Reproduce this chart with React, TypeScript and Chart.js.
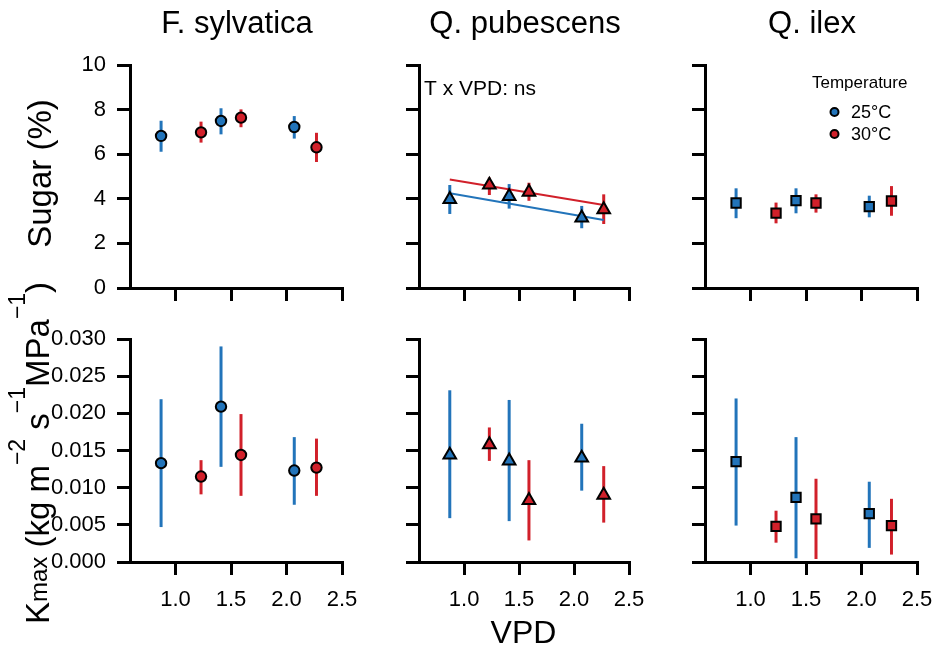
import { useEffect, useRef } from 'react';
import { Chart, registerables } from 'chart.js';

Chart.register(...registerables);

const FONT = "'Liberation Sans', Arial, sans-serif";
const BLUE = '#2274BA';
const RED = '#D1202A';

const SPECIES = ['F. sylvatica', 'Q. pubescens', 'Q. ilex'];
const MARKERS = ['circle', 'triangle', 'rect'];
const MARKER_RADIUS = [5.2, 7.3, 6.6];
const TEMPS = ['25°C', '30°C'];

const VPD_25 = [0.87, 1.41, 2.07];
const VPD_30 = [1.23, 1.59, 2.27];
const VPD_TICKS = [1.0, 1.5, 2.0, 2.5];
const SUGAR_TICKS = [0, 2, 4, 6, 8, 10];
const KMAX_TICKS = [0, 0.005, 0.01, 0.015, 0.02, 0.025, 0.03];

// Sugar (%): one row per species, one entry per VPD level
const SUGAR_25_MEAN = [[6.82, 7.49, 7.22], [3.98, 4.11, 3.15], [3.81, 3.92, 3.65]];
const SUGAR_25_LOW = [[6.11, 6.89, 6.70], [3.32, 3.56, 2.68], [3.13, 3.35, 3.17]];
const SUGAR_25_HIGH = [[7.50, 8.06, 7.71], [4.62, 4.66, 3.68], [4.47, 4.47, 4.14]];
const SUGAR_30_MEAN = [[6.98, 7.64, 6.31], [4.62, 4.30, 3.52], [3.36, 3.81, 3.90]];
const SUGAR_30_LOW = [[6.52, 7.21, 5.65], [4.17, 3.91, 2.87], [2.90, 3.38, 3.24]];
const SUGAR_30_HIGH = [[7.46, 8.01, 6.96], [4.95, 4.72, 4.20], [3.83, 4.20, 4.57]];

// Kmax (kg m-2 s-1 MPa-1): one row per species, one entry per VPD level
const KMAX_25_MEAN = [[0.0133, 0.0209, 0.0123], [0.0144, 0.0136, 0.0140], [0.0135, 0.0087, 0.0065]];
const KMAX_25_LOW = [[0.0047, 0.0128, 0.0077], [0.0059, 0.0055, 0.0096], [0.0049, 0.0005, 0.0019]];
const KMAX_25_HIGH = [[0.0219, 0.0290, 0.0168], [0.0231, 0.0218, 0.0186], [0.0220, 0.0168, 0.0108]];
const KMAX_30_MEAN = [[0.0115, 0.0144, 0.0127], [0.0158, 0.0083, 0.0090], [0.0048, 0.0058, 0.0049]];
const KMAX_30_LOW = [[0.0091, 0.0089, 0.0089], [0.0136, 0.0029, 0.0053], [0.0026, 0.0004, 0.0010]];
const KMAX_30_HIGH = [[0.0137, 0.0199, 0.0166], [0.0181, 0.0137, 0.0129], [0.0069, 0.0112, 0.0085]];

// Linear fits of sugar on VPD for Q. pubescens
const FIT_VPD = [0.87, 2.27];
const FIT_SUGAR_25 = [4.25, 3.05];
const FIT_SUGAR_30 = [4.87, 3.72];

// Page layout (pixels): canvas cells and plot areas per column / row
const COL_CELL = [[0, 375], [375, 655], [655, 933]];
const COL_AREA = [[130, 342], [419, 629], [705, 917]];
const ROW_CELL = [[0, 316], [270, 652]];
const ROW_AREA = [[65, 288], [339, 562]];
const Y_BOX = [85, 30, 30];
const X_BOX = [20, 60];

type Run = { text: string; size: number; dy?: number };
type TextItem =
  | { kind: 'text'; x: number; y: number; runs: Run[]; align?: 'left' | 'center'; rotate?: boolean }
  | { kind: 'dot'; x: number; y: number; color: string };

const KMAX_TITLE: Run[] = [
  { text: 'K', size: 33 },
  { text: 'max', size: 24, dy: -2 },
  { text: ' (kg m', size: 33 },
  { text: '−2', size: 23, dy: -24 },
  { text: ' s', size: 33 },
  { text: '−1', size: 23, dy: -24 },
  { text: 'MPa', size: 33 },
  { text: '−1', size: 23, dy: -24 },
  { text: ')', size: 33 },
];

function panelTexts(row: number, col: number): TextItem[] {
  const items: TextItem[] = [];
  const mid = (COL_AREA[col][0] + COL_AREA[col][1]) / 2;
  if (row === 0) {
    items.push({ kind: 'text', x: mid + 1, y: 33, align: 'center', runs: [{ text: SPECIES[col], size: 31 }] });
  }
  if (row === 0 && col === 0) {
    items.push({ kind: 'text', x: 51, y: 173.5, rotate: true, align: 'center', runs: [{ text: 'Sugar (%)', size: 33 }] });
  }
  if (row === 0 && col === 1) {
    items.push({ kind: 'text', x: 424, y: 95, runs: [{ text: 'T x VPD: ns', size: 21 }] });
  }
  if (row === 0 && col === 2) {
    items.push({ kind: 'text', x: 812, y: 88, runs: [{ text: 'Temperature', size: 17 }] });
    items.push({ kind: 'dot', x: 834.5, y: 112, color: BLUE });
    items.push({ kind: 'dot', x: 834.5, y: 134, color: RED });
    items.push({ kind: 'text', x: 851, y: 118, runs: [{ text: TEMPS[0], size: 18 }] });
    items.push({ kind: 'text', x: 851, y: 140, runs: [{ text: TEMPS[1], size: 18 }] });
  }
  if (row === 1 && col === 0) {
    items.push({ kind: 'text', x: 49, y: 453, rotate: true, align: 'center', runs: KMAX_TITLE });
  }
  if (row === 1 && col === 1) {
    items.push({ kind: 'text', x: 523.5, y: 643, align: 'center', runs: [{ text: 'VPD', size: 32 }] });
  }
  return items;
}

function pointSet(xs: number[], mean: number[], low: number[], high: number[], color: string, col: number) {
  return {
    type: 'scatter',
    data: xs.map((x, i) => ({ x, y: mean[i] })),
    errLow: low,
    errHigh: high,
    errColor: color,
    showLine: false,
    pointStyle: MARKERS[col],
    pointRadius: MARKER_RADIUS[col],
    pointBackgroundColor: color,
    pointBorderColor: '#000',
    pointBorderWidth: 2,
  };
}

function fitLine(ys: number[], color: string) {
  return {
    type: 'line',
    data: FIT_VPD.map((x, i) => ({ x, y: ys[i] })),
    showLine: true,
    borderColor: color,
    borderWidth: 2,
    pointRadius: 0,
    fill: false,
  };
}

const axisLine = { display: true, width: 3, color: '#000' };

function buildConfig(row: number, col: number): any {
  const sugar = row === 0;
  const datasets: any[] = [
    pointSet(VPD_25, (sugar ? SUGAR_25_MEAN : KMAX_25_MEAN)[col], (sugar ? SUGAR_25_LOW : KMAX_25_LOW)[col],
      (sugar ? SUGAR_25_HIGH : KMAX_25_HIGH)[col], BLUE, col),
    pointSet(VPD_30, (sugar ? SUGAR_30_MEAN : KMAX_30_MEAN)[col], (sugar ? SUGAR_30_LOW : KMAX_30_LOW)[col],
      (sugar ? SUGAR_30_HIGH : KMAX_30_HIGH)[col], RED, col),
  ];
  if (sugar && col === 1) datasets.push(fitLine(FIT_SUGAR_25, BLUE), fitLine(FIT_SUGAR_30, RED));

  const [cl, cr] = COL_CELL[col];
  const [ct, cb] = ROW_CELL[row];
  const [al, ar] = COL_AREA[col];
  const [at, ab] = ROW_AREA[row];
  const yTicks = sugar ? SUGAR_TICKS : KMAX_TICKS;
  const texts = panelTexts(row, col);

  const errorBars = {
    id: 'errorBars',
    beforeDatasetsDraw(chart: any) {
      const { ctx, scales } = chart;
      chart.data.datasets.forEach((ds: any) => {
        if (!ds.errLow) return;
        ctx.save();
        ctx.strokeStyle = ds.errColor;
        ctx.lineWidth = 3;
        ctx.lineCap = 'butt';
        ds.data.forEach((p: any, i: number) => {
          const px = scales.x.getPixelForValue(p.x);
          ctx.beginPath();
          ctx.moveTo(px, scales.y.getPixelForValue(ds.errLow[i]));
          ctx.lineTo(px, scales.y.getPixelForValue(ds.errHigh[i]));
          ctx.stroke();
        });
        ctx.restore();
      });
    },
  };

  const panelText = {
    id: 'panelText',
    afterDraw(chart: any) {
      const ctx: CanvasRenderingContext2D = chart.ctx;
      for (const item of texts) {
        ctx.save();
        ctx.translate(item.x - cl, item.y - ct);
        if (item.kind === 'dot') {
          ctx.beginPath();
          ctx.arc(0, 0, 4, 0, Math.PI * 2);
          ctx.fillStyle = item.color;
          ctx.fill();
          ctx.lineWidth = 2;
          ctx.strokeStyle = '#000';
          ctx.stroke();
        } else {
          if (item.rotate) ctx.rotate(-Math.PI / 2);
          ctx.fillStyle = '#000';
          ctx.textAlign = 'left';
          ctx.textBaseline = 'alphabetic';
          const widths = item.runs.map((r) => {
            ctx.font = `${r.size}px ${FONT}`;
            return ctx.measureText(r.text).width;
          });
          const total = widths.reduce((a, b) => a + b, 0);
          let cur = item.align === 'center' ? -total / 2 : 0;
          item.runs.forEach((r, i) => {
            ctx.font = `${r.size}px ${FONT}`;
            ctx.fillText(r.text, cur, r.dy || 0);
            cur += widths[i];
          });
        }
        ctx.restore();
      }
    },
  };

  return {
    type: 'scatter',
    data: { datasets },
    plugins: [errorBars, panelText],
    options: {
      animation: false,
      responsive: false,
      devicePixelRatio: 1,
      events: [],
      layout: {
        padding: {
          left: al - cl - Y_BOX[col],
          right: cr - ar,
          top: at - ct,
          bottom: cb - ab - X_BOX[row],
        },
      },
      plugins: { legend: { display: false }, tooltip: { enabled: false }, title: { display: false } },
      scales: {
        x: {
          type: 'linear',
          bounds: 'data',
          min: 0.59,
          max: 2.5,
          afterBuildTicks: (s: any) => {
            s.ticks = VPD_TICKS.map((v) => ({ value: v }));
          },
          afterFit: (s: any) => {
            s.height = X_BOX[row];
            s.paddingLeft = 0;
            s.paddingRight = 0;
          },
          ticks: {
            autoSkip: false,
            maxRotation: 0,
            padding: 12,
            color: '#000',
            font: { family: FONT, size: 22 },
            callback: (v: any) => (row === 1 ? Number(v).toFixed(1) : ''),
          },
          grid: {
            drawOnChartArea: false,
            tickLength: 13,
            tickWidth: 3,
            tickColor: '#000',
            lineWidth: 3,
            color: '#000',
          },
          border: axisLine,
        },
        y: {
          type: 'linear',
          bounds: 'data',
          min: yTicks[0],
          max: yTicks[yTicks.length - 1],
          afterBuildTicks: (s: any) => {
            s.ticks = yTicks.map((v) => ({ value: v }));
          },
          afterFit: (s: any) => {
            s.width = Y_BOX[col];
            s.paddingTop = 0;
            s.paddingBottom = 0;
          },
          ticks: {
            autoSkip: false,
            padding: 11,
            color: '#000',
            font: { family: FONT, size: 22 },
            callback: (v: any) => (col === 0 ? (sugar ? String(v) : Number(v).toFixed(3)) : ''),
          },
          grid: {
            drawOnChartArea: false,
            tickLength: 13,
            tickWidth: 3,
            tickColor: '#000',
            lineWidth: 3,
            color: '#000',
          },
          border: axisLine,
        },
      },
    },
  };
}

function Panel({ row, col }: { row: number; col: number }) {
  const ref = useRef<HTMLCanvasElement>(null);
  const [cl, cr] = COL_CELL[col];
  const [ct, cb] = ROW_CELL[row];
  const w = cr - cl;
  const h = cb - ct;
  useEffect(() => {
    if (!ref.current) return;
    const chart = new Chart(ref.current, buildConfig(row, col));
    return () => chart.destroy();
  }, [row, col]);
  return (
    <canvas
      ref={ref}
      width={w}
      height={h}
      style={{ position: 'absolute', left: cl, top: ct, width: w, height: h }}
    />
  );
}

export default function App() {
  return (
    <div
      style={{ position: 'absolute', left: 0, top: 0, width: 933, height: 652, background: '#fff', overflow: 'hidden' }}
    >
      {[0, 1].map((r) => [0, 1, 2].map((c) => <Panel key={`${r}-${c}`} row={r} col={c} />))}
    </div>
  );
}
